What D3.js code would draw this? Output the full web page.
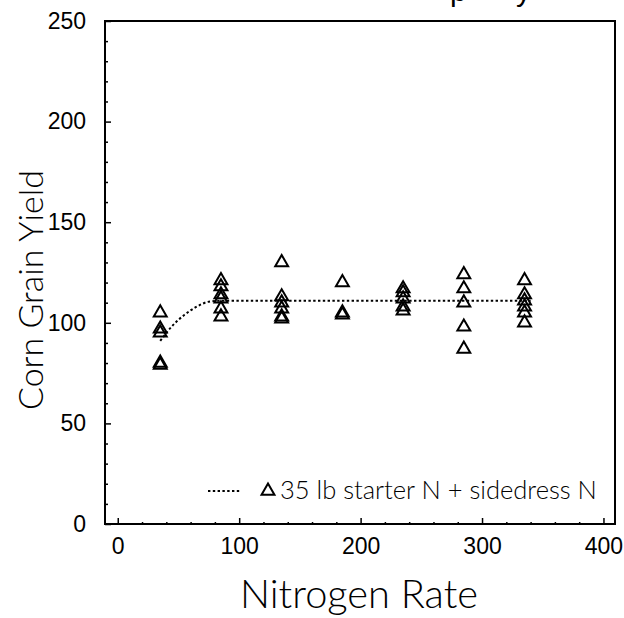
<!DOCTYPE html>
<html>
<head>
<meta charset="utf-8">
<script src="https://cdn.jsdelivr.net/npm/d3@7"></script>
<style>
  html, body { margin: 0; padding: 0; background: #fff; }
  svg { display: block; }
</style>
</head>
<body>
<svg id="chart" width="624" height="618"></svg>
<script>
// ---- data ----
const nitrogenRates = [35, 85, 135, 185, 235, 285, 335];
const yields35 = [105, 97, 95, 80, 79];
const yields85 = [121, 118, 114, 112, 107, 103];
const yields135 = [130, 113, 110, 107, 103, 102];
const yields185 = [120, 105, 104];
const yields235 = [117, 115, 112, 108, 106];
const yields285 = [124, 117, 110, 98, 87];
const yields335 = [121, 114, 111, 108, 105, 100];
const yieldGroups = [yields35, yields85, yields135, yields185, yields235, yields285, yields335];

// fitted quadratic-plateau curve
const fitX = [35, 45, 55, 65, 75, 85, 135, 185, 235, 285, 340];
const fitY = [91, 98.5, 104, 108, 110.5, 111, 111, 111, 111, 111, 111];

const xMajorTicks = [0, 100, 200, 300, 400];
const xMinorTicks = [20, 40, 60, 80, 120, 140, 160, 180, 220, 240, 260, 280, 320, 340, 360, 380];
const yMajorTicks = [0, 50, 100, 150, 200, 250];
const yMinorTicks = [10, 20, 30, 40, 60, 70, 80, 90, 110, 120, 130, 140, 160, 170, 180, 190, 210, 220, 230, 240];

const xTitle = "Nitrogen Rate";
const yTitle = "Corn Grain Yield";
const legendLabel = "35 lb starter N + sidedress N";

// ---- build table ----
const points = [];
nitrogenRates.forEach((n, i) => yieldGroups[i].forEach(v => points.push({x: n, y: v})));
const fit = fitX.map((v, i) => ({x: v, y: fitY[i]}));

const svg = d3.select("#chart");
const L = 105, R = 615, T = 21, B = 524;

const x = d3.scaleLinear().domain([-10.5, 409.5]).range([L, R]);
const y = d3.scaleLinear().domain([0, 250]).range([B, T]);

const tickFont = "'Liberation Sans', Arial, sans-serif";
const titleFont = "Lato, 'Liberation Sans', sans-serif";

function fitWidth(sel, base, target) {
  sel.attr("font-size", base);
  const w = sel.node().getComputedTextLength();
  sel.attr("font-size", base * target / w);
}

// clipped title remnants at very top
svg.append("text").attr("x", 450).attr("y", 1).attr("font-family", tickFont)
  .attr("font-size", 30).text("p");
svg.append("text").attr("x", 516).attr("y", 1).attr("font-family", tickFont)
  .attr("font-size", 30).text("y");

// frame
svg.append("rect").attr("x", L).attr("y", T).attr("width", R - L).attr("height", B - T)
  .attr("fill", "none").attr("stroke", "#000").attr("stroke-width", 2);

// x axis
svg.append("g").attr("transform", `translate(0,${B})`)
  .call(d3.axisBottom(x).tickValues(xMajorTicks).tickSize(-6).tickPadding(14).tickFormat(d3.format("d")));
svg.append("g").attr("transform", `translate(0,${B})`)
  .call(d3.axisBottom(x).tickValues(xMinorTicks).tickSize(-2).tickFormat(""));
// y axis
svg.append("g").attr("transform", `translate(${L},0)`)
  .call(d3.axisLeft(y).tickValues(yMajorTicks).tickSize(-6).tickPadding(19).tickFormat(d3.format("d")));
svg.append("g").attr("transform", `translate(${L},0)`)
  .call(d3.axisLeft(y).tickValues(yMinorTicks).tickSize(-3).tickFormat(""));

svg.selectAll(".domain").remove();
svg.selectAll(".tick line").attr("stroke", "#000").attr("stroke-width", 1.5);
svg.selectAll(".tick text").attr("font-family", tickFont).attr("font-size", 23).attr("fill", "#000");

// axis titles
const xt = svg.append("text").attr("x", 359).attr("y", 608).attr("text-anchor", "middle")
  .attr("font-family", titleFont).attr("font-weight", 300).attr("fill", "#000").text(xTitle);
fitWidth(xt, 32, 238);
const yt = svg.append("text").attr("transform", "translate(43,290) rotate(-90)").attr("text-anchor", "middle")
  .attr("font-family", titleFont).attr("font-weight", 300).attr("fill", "#000").text(yTitle);
fitWidth(yt, 32, 240);

// fitted line
const line = d3.line().x(d => x(d.x)).y(d => y(d.y)).curve(d3.curveMonotoneX);
svg.append("path").datum(fit).attr("d", line).attr("fill", "none")
  .attr("stroke", "#000").attr("stroke-width", 2).attr("stroke-dasharray", "2.4,2.4");

// points
const tri = d3.symbol().type(d3.symbolTriangle).size(72);
svg.append("g").selectAll("path").data(points).join("path")
  .attr("d", tri)
  .attr("transform", d => `translate(${x(d.x)},${y(d.y)})`)
  .attr("fill", "none").attr("stroke", "#000").attr("stroke-width", 2);

// legend
const ly = 491;
svg.append("line").attr("x1", 208).attr("x2", 241).attr("y1", ly).attr("y2", ly)
  .attr("stroke", "#000").attr("stroke-width", 2).attr("stroke-dasharray", "2.4,2.4");
svg.append("path").attr("d", tri).attr("transform", `translate(268,${ly})`)
  .attr("fill", "none").attr("stroke", "#000").attr("stroke-width", 2);
const lt = svg.append("text").attr("x", 280).attr("y", ly + 8).attr("font-family", titleFont)
  .attr("font-weight", 300).attr("fill", "#000").text(legendLabel);
fitWidth(lt, 20, 317);
</script>
</body>
</html>
